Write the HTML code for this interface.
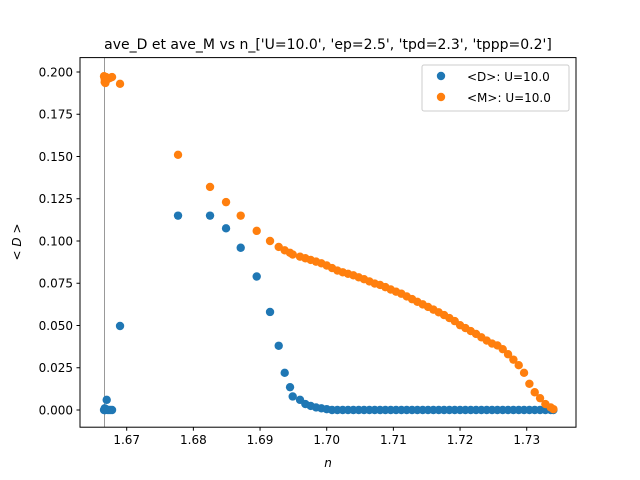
<!DOCTYPE html>
<html><head><meta charset="utf-8"><style>
html,body{margin:0;padding:0;background:#fff;}
svg{display:block;font-family:"DejaVu Sans","Liberation Sans",sans-serif;}
</style></head><body>
<svg id="chart" width="640" height="480" viewBox="0 0 640 480">
<rect x="0" y="0" width="640" height="480" fill="#fff"/>
<text x="328" y="49" font-size="14" text-anchor="middle">ave_D et ave_M vs n_['U=10.0', 'ep=2.5', 'tpd=2.3', 'tppp=0.2']</text>
<g id="plot"></g>
<g id="axes"></g>
<text x="328" y="467" font-size="12" font-style="italic" text-anchor="middle">n</text>
<text x="21" y="242" font-size="12" text-anchor="middle" transform="rotate(-90 21 242)">&lt; <tspan font-style="italic">D</tspan> &gt;</text>
<g>
<rect x="422" y="65" width="147" height="46" rx="2" fill="#fff" fill-opacity="0.8" stroke="#ccc"/>
<circle cx="441" cy="76" r="4.2" fill="#1f77b4"/>
<text x="467" y="81" font-size="12">&lt;D&gt;: U=10.0</text>
<circle cx="441" cy="97" r="4.2" fill="#ff7f0e"/>
<text x="467" y="102" font-size="12">&lt;M&gt;: U=10.0</text>
</g>
</svg>
<script>
const nValues = [1.6666,1.6667,1.6667,1.6668,1.6669,1.6670,1.6672,1.6675,1.6678,
 1.6690,1.6777,1.6825,1.6849,1.6871,1.6895,1.6915,1.6928,1.6937,1.6945,1.6949,
 1.6960,1.6968,1.6976,1.6984,1.6992,1.7000,1.7008,1.7016,1.7024,1.7032,1.7040,1.7048,1.7056,1.7064,1.7072,1.7080,
 1.7088,1.7096,1.7104,1.7112,1.7120,1.7128,1.7136,1.7144,1.7152,1.7160,1.7168,1.7176,1.7184,1.7192,1.7200,
 1.7208,1.7216,1.7224,1.7232,1.7240,1.7248,1.7256,1.7264,1.7272,1.7280,1.7288,1.7296,1.7304,1.7312,1.7320,
 1.7328,1.7336,1.7340];
const dValues = [0,0.001,0,0,0.0005,0.006,0,0,0,
 0.0497,0.115,0.115,0.1075,0.096,0.079,0.058,0.038,0.022,0.0135,0.008,
 0.006,0.0035,0.0024,0.0015,0.001,0.0005,0,0,0,0,0,0,0,0,0,0,
 0,0,0,0,0,0,0,0,0,0,0,0,0,0,0,
 0,0,0,0,0,0,0,0,0,0,0,0,0,0,0,
 0,0,0];
const mValues = [0.1975,0.194,0.196,0.1935,0.197,0.1955,0.196,0.1965,0.197,
 0.193,0.151,0.132,0.123,0.115,0.106,0.100,0.0965,0.0945,0.093,0.092,
 0.0907,0.0898,0.0888,0.0878,0.0868,0.0855,0.0840,0.0825,0.0815,0.0806,0.0797,0.0785,0.0774,0.0761,0.0748,0.0740,
 0.0727,0.0713,0.0700,0.0688,0.0672,0.0656,0.0640,0.0625,0.0610,0.0594,0.0578,0.0562,0.0544,0.0526,0.0502,
 0.0485,0.0467,0.0450,0.0430,0.0411,0.0393,0.0382,0.0360,0.0330,0.0298,0.0265,0.0220,0.0155,0.0105,0.0070,
 0.0035,0.0015,0.0005];
const xTicks = [1.67,1.68,1.69,1.70,1.71,1.72,1.73];
const xTickLabels = ["1.67","1.68","1.69","1.70","1.71","1.72","1.73"];
const yTicks = [0,0.025,0.05,0.075,0.1,0.125,0.15,0.175,0.2];
const yTickLabels = ["0.000","0.025","0.050","0.075","0.100","0.125","0.150","0.175","0.200"];
const vLineN = 1.66667;

const L=80,R=576,T=57.6,B=427.2;
function xs(v){return 126.7+(v-1.67)*6667;}
function ys(v){return 410-v*1690;}
const NS="http://www.w3.org/2000/svg";
const plot=document.getElementById('plot');
const axes=document.getElementById('axes');
function mk(tag,attrs,parent){const e=document.createElementNS(NS,tag);for(const k in attrs)e.setAttribute(k,attrs[k]);parent.appendChild(e);return e;}

const vl=mk('line',{x1:xs(vLineN),x2:xs(vLineN),y1:T,y2:B,stroke:'#999','stroke-width':1},plot);



for(let i=0;i<nValues.length;i++){
  const c=mk('circle',{cx:xs(nValues[i]),cy:ys(dValues[i]),r:4.2,fill:'#1f77b4'},plot);
  
  
}
for(let i=0;i<nValues.length;i++){
  const c=mk('circle',{cx:xs(nValues[i]),cy:ys(mValues[i]),r:4.2,fill:'#ff7f0e'},plot);
  
  
}

const frame=mk('rect',{x:L,y:T,width:R-L,height:B-T,fill:'none',stroke:'#000','stroke-width':1},axes);



xTicks.forEach((t,i)=>{
  const x=xs(t);
  const tk=mk('line',{x1:x,x2:x,y1:B,y2:B+3.5,stroke:'#000'},axes);
  
  
  const tx=mk('text',{x:x,y:B+17,'font-size':12,'text-anchor':'middle'},axes);
  tx.textContent=xTickLabels[i];
  
  
});
yTicks.forEach((t,i)=>{
  const y=ys(t);
  const tk=mk('line',{x1:L-3.5,x2:L,y1:y,y2:y,stroke:'#000'},axes);
  
  
  const tx=mk('text',{x:L-7,y:y+4.3,'font-size':12,'text-anchor':'end'},axes);
  tx.textContent=yTickLabels[i];
  
  
});
</script>
</body></html>
